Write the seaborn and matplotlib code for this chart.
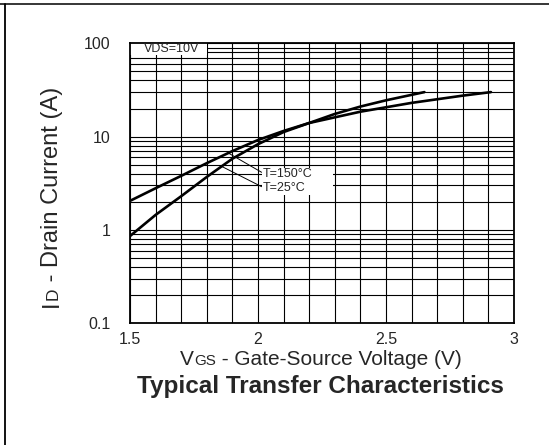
import numpy as np
import pandas as pd
import matplotlib
matplotlib.use('Agg')
import matplotlib.pyplot as plt
import seaborn as sns
from matplotlib.ticker import MultipleLocator, LogLocator, FixedLocator, NullFormatter
from matplotlib.patches import Rectangle
from matplotlib.lines import Line2D

# ---- data ----
vgs_25 = [1.5, 1.6, 1.7, 1.8, 1.9, 2.0, 2.1, 2.2, 2.3, 2.4, 2.5, 2.65]
id_25 = [0.86, 1.45, 2.3, 3.7, 5.8, 8.3, 11.2, 14.0, 17.5, 21.0, 24.5, 30.0]
vgs_150 = [1.5, 1.6, 1.7, 1.8, 1.9, 2.0, 2.1, 2.2, 2.4, 2.6, 2.8, 2.91]
id_150 = [2.05, 2.8, 3.8, 5.2, 7.0, 9.2, 11.5, 14.0, 18.5, 23.0, 27.5, 30.0]

x_ticks = [1.5, 2, 2.5, 3]
x_ticklabels = ['1.5', '2', '2.5', '3']
y_ticks = [0.1, 1, 10, 100]
y_ticklabels = ['0.1', '1', '10', '100']

df = pd.concat([
    pd.DataFrame({'vgs': vgs_150, 'id': id_150, 'temp': 'T=150°C'}),
    pd.DataFrame({'vgs': vgs_25, 'id': id_25, 'temp': 'T=25°C'}),
])

# ---- style ----
sns.set_style('white')
plt.rcParams['font.family'] = ['Liberation Sans', 'DejaVu Sans']

W, H = 549, 445
fig = plt.figure(figsize=(W / 100, H / 100), dpi=100)
ax = fig.add_axes([130 / W, 1 - 323.3 / H, 384 / W, 280 / H])

sns.lineplot(data=df, x='vgs', y='id', hue='temp', palette=['black', 'black'],
             linewidth=1.9, legend=False, ax=ax)

ax.set_yscale('log')
ax.set_xlim(1.5, 3)
ax.set_ylim(0.1, 100)
ax.set_xticks(x_ticks)
ax.set_xticklabels(x_ticklabels)
ax.xaxis.set_minor_locator(MultipleLocator(0.1))
ax.yaxis.set_major_locator(FixedLocator(y_ticks))
ax.set_yticklabels(y_ticklabels)
ax.yaxis.set_minor_locator(LogLocator(base=10, subs=np.arange(2, 10)))
ax.yaxis.set_minor_formatter(NullFormatter())
ax.tick_params(which='both', length=0)
ax.tick_params(axis='y', labelsize=11.5, pad=14)
ax.tick_params(axis='x', labelsize=11.5, pad=6)
ax.set_xlabel('')
ax.set_ylabel('')
ax.set_axisbelow(True)
ax.grid(which='both', color='black', linewidth=0.8)
for sp in ax.spines.values():
    sp.set_visible(True)
    sp.set_color('black')
    sp.set_linewidth(1.3)

# VDS label box in the top-left corner
ax.add_patch(Rectangle((0, 0.958), 0.2, 0.042, transform=ax.transAxes,
                       facecolor='white', edgecolor='none', zorder=2.4))
ax.text(0.109, 0.979, 'VDS=10V', transform=ax.transAxes, ha='center', va='center',
        fontsize=9, zorder=3)

# temperature labels with pointer lines
ax.add_patch(Rectangle((0.343, 0.458), 0.186, 0.097, transform=ax.transAxes,
                       facecolor='white', edgecolor='none', zorder=2.4))
p150 = 10 ** np.interp(1.884, vgs_150, np.log10(id_150))
p25 = 10 ** np.interp(1.858, vgs_25, np.log10(id_25))
ax.plot([1.884, 2.014], [p150, 4.15], color='black', lw=0.7, zorder=3)
ax.plot([1.858, 2.014], [p25, 2.91], color='black', lw=0.7, zorder=3)
ax.text(2.02, 3.95, 'T=150°C', ha='left', va='center', fontsize=9, zorder=3)
ax.text(2.02, 2.85, 'T=25°C', ha='left', va='center', fontsize=9, zorder=3)


def piece_label(cx, base, parts, rotation=0):
    # parts of different size laid on one baseline, centred on cx (pixels)
    r = fig.canvas.get_renderer()
    objs = [fig.text(0, 0, s, fontsize=fs, rotation=rotation, rotation_mode='anchor',
                     ha='left', va='baseline') for s, fs in parts]
    sizes = []
    for t in objs:
        bb = t.get_window_extent(r)
        sizes.append(bb.width if rotation == 0 else bb.height)
    pos = cx - sum(sizes) / 2
    for t, s in zip(objs, sizes):
        if rotation == 0:
            t.set_position((pos / W, base / H))
        else:
            t.set_position((base / W, pos / H))
        pos += s


piece_label(321, H - 365, [('V', 15), ('GS', 11), (' - Gate-Source Voltage (V)', 15)])
piece_label(H - 196.7, 58, [('I', 17), ('D', 12.5), (' - Drain Current (A)', 17)], rotation=90)

fig.text(320 / W, (H - 393.3) / H, 'Typical Transfer Characteristics', ha='center',
         va='baseline', fontsize=17.5, fontweight='bold')

# page frame lines (top and left)
fig.add_artist(Line2D([0, 1], [1 - 4.3 / H] * 2, transform=fig.transFigure,
                      color='black', lw=1.1))
fig.add_artist(Line2D([5 / W] * 2, [0, 1 - 4.3 / H], transform=fig.transFigure,
                      color='black', lw=1.3))

fig.savefig('out.png', dpi=100)
